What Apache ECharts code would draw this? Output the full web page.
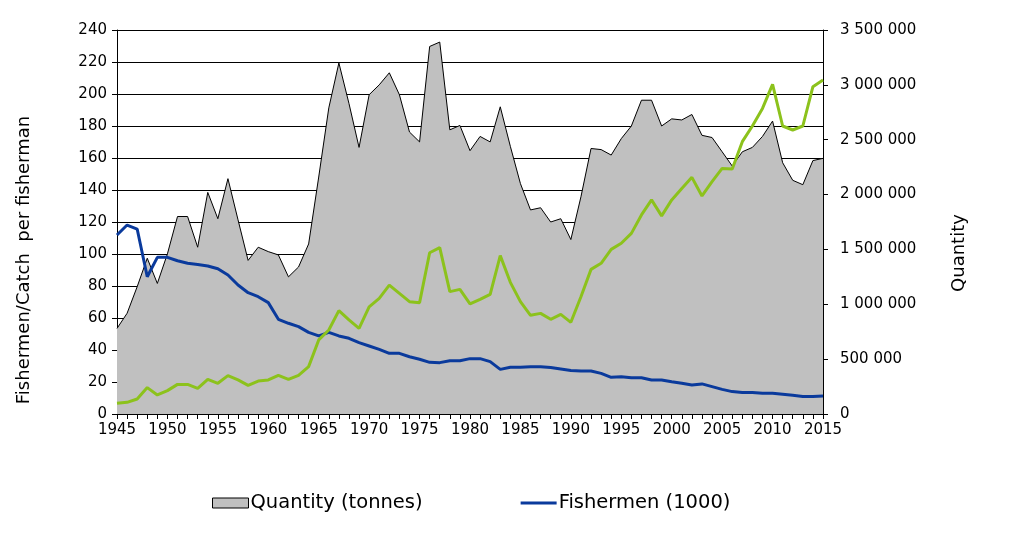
<!DOCTYPE html>
<html>
<head>
<meta charset="utf-8">
<script src="https://cdn.jsdelivr.net/npm/echarts@6/dist/echarts.min.js"></script>
<style>
  html, body { margin: 0; padding: 0; background: #ffffff; }
  #chart { width: 1019px; height: 541px; }
</style>
</head>
<body>
<div id="chart"></div>
<script>
const years = [
  '1945', '1946', '1947', '1948', '1949', '1950', '1951', '1952', '1953', '1954',
  '1955', '1956', '1957', '1958', '1959', '1960', '1961', '1962', '1963', '1964',
  '1965', '1966', '1967', '1968', '1969', '1970', '1971', '1972', '1973', '1974',
  '1975', '1976', '1977', '1978', '1979', '1980', '1981', '1982', '1983', '1984',
  '1985', '1986', '1987', '1988', '1989', '1990', '1991', '1992', '1993', '1994',
  '1995', '1996', '1997', '1998', '1999', '2000', '2001', '2002', '2003', '2004',
  '2005', '2006', '2007', '2008', '2009', '2010', '2011', '2012', '2013', '2014',
  '2015'
]

// tonnes, right axis
const quantity = [
  780000, 918000, 1160000, 1420000, 1190000, 1460000, 1800000, 1800000, 1520000, 2020000,
  1780000, 2145000, 1770000, 1400000, 1520000, 1480000, 1450000, 1250000, 1340000, 1550000,
  2160000, 2790000, 3200000, 2830000, 2430000, 2910000, 3000000, 3110000, 2910000, 2570000,
  2480000, 3350000, 3390000, 2590000, 2630000, 2400000, 2530000, 2480000, 2800000, 2440000,
  2100000, 1860000, 1880000, 1750000, 1780000, 1590000, 1980000, 2420000, 2410000, 2360000,
  2510000, 2625000, 2860000, 2860000, 2625000, 2690000, 2680000, 2730000, 2540000, 2520000,
  2390000, 2260000, 2390000, 2430000, 2530000, 2670000, 2290000, 2130000, 2090000, 2310000,
  2330000
]

// thousands, left axis
const fishermen = [
  111.9, 118.1, 115.6, 85.8, 97.9, 97.9, 95.8, 94.2, 93.5, 92.5,
  90.8, 86.9, 80.6, 75.8, 73.3, 69.6, 59.2, 56.7, 54.6, 51.0,
  48.8, 51.0, 48.8, 47.3, 44.6, 42.5, 40.4, 37.9, 37.9, 35.8,
  34.2, 32.3, 32.1, 33.3, 33.3, 34.6, 34.6, 32.7, 27.9, 29.2,
  29.2, 29.6, 29.6, 29.0, 28.1, 27.2, 26.9, 26.9, 25.4, 22.9,
  23.3, 22.7, 22.7, 21.3, 21.3, 20.2, 19.2, 18.1, 18.8, 17.1,
  15.4, 14.0, 13.5, 13.5, 12.9, 12.9, 12.3, 11.7, 11.0, 11.0,
  11.3
]

// tonnes per fisherman, left axis
const catchPerFisherman = [
  6.7, 7.3, 9.4, 16.5, 11.9, 14.6, 18.5, 18.5, 16.0, 21.7,
  19.2, 24.0, 21.3, 17.9, 20.6, 21.3, 24.2, 21.7, 24.2, 29.6,
  46.3, 52.5, 64.6, 58.8, 53.5, 67.0, 72.3, 80.6, 75.4, 70.2,
  69.6, 100.8, 104.0, 76.5, 77.9, 68.8, 71.7, 74.8, 99.0, 82.3,
  70.2, 61.7, 62.9, 59.2, 62.3, 57.3, 73.3, 90.4, 94.2, 102.9,
  106.7, 112.9, 124.4, 133.8, 123.8, 133.8, 141.0, 147.9, 136.3, 145.2,
  153.5, 153.1, 170.2, 180.0, 191.0, 206.0, 180.0, 177.5, 180.0, 204.6,
  208.8
]

const font = '"DejaVu Sans", Verdana, sans-serif'

function spaced (v) {
  return String(v).replace(/\B(?=(\d{3})+(?!\d))/g, ' ')
}

const chart = echarts.init(document.getElementById('chart'))

chart.setOption({
  backgroundColor: '#ffffff',
  animation: false,
  textStyle: { fontFamily: font, color: '#000' },
  grid: { left: 117, right: 196, top: 30, bottom: 127 },
  legend: {
    left: 207,
    top: 488,
    itemWidth: 36,
    itemHeight: 10,
    itemGap: 98,
    textStyle: { fontFamily: font, fontSize: 19.5, color: '#000', padding: [0, 0, 0, -3] },
    data: [
      { name: 'Quantity (tonnes)', icon: 'rect', itemStyle: { color: '#c0c0c0', borderColor: '#000', borderWidth: 1 } },
      { name: 'Fishermen (1000)', icon: 'path://M0,0h36v3h-36z' }
    ]
  },
  xAxis: {
    type: 'category',
    data: years,
    boundaryGap: false,
    axisLine: { lineStyle: { color: '#000', width: 1 } },
    axisTick: { show: true, interval: 0, length: 5, lineStyle: { color: '#000' } },
    axisLabel: { interval: 4, color: '#000', fontSize: 15, margin: 9, fontFamily: font },
    splitLine: { show: false }
  },
  yAxis: [
    {
      type: 'value',
      min: 0,
      max: 240,
      interval: 20,
      name: 'Fishermen/Catch  per fisherman',
      nameLocation: 'middle',
      nameGap: 84,
      nameTextStyle: { fontSize: 18, color: '#000', fontFamily: font, padding: [0, 76, 0, 0] },
      axisLine: { show: true, lineStyle: { color: '#000' } },
      axisTick: { show: true, length: 5, lineStyle: { color: '#000' } },
      axisLabel: { color: '#000', fontSize: 15, margin: 10, fontFamily: font },
      splitLine: { show: true, lineStyle: { color: '#000', width: 1 } }
    },
    {
      type: 'value',
      min: 0,
      max: 3500000,
      interval: 500000,
      name: 'Quantity',
      nameLocation: 'middle',
      nameGap: 127,
      nameTextStyle: { fontSize: 18, color: '#000', fontFamily: font, padding: [0, 62, 0, 0] },
      position: 'right',
      axisLine: { show: true, lineStyle: { color: '#000' } },
      axisTick: { show: true, length: 5, lineStyle: { color: '#000' } },
      axisLabel: { color: '#000', fontSize: 15, margin: 17, fontFamily: font, formatter: spaced },
      splitLine: { show: false }
    }
  ],
  series: [
    {
      name: 'Quantity (tonnes)',
      type: 'line',
      yAxisIndex: 1,
      data: quantity,
      symbol: 'none',
      lineStyle: { color: '#000', width: 1 },
      itemStyle: { color: '#c0c0c0', borderColor: '#000' },
      areaStyle: { color: '#c0c0c0', opacity: 1 },
      z: 1
    },
    {
      name: 'Fishermen (1000)',
      type: 'line',
      yAxisIndex: 0,
      data: fishermen,
      symbol: 'none',
      lineStyle: { color: '#0a3a9c', width: 3 },
      itemStyle: { color: '#0a3a9c' },
      z: 3
    },
    {
      name: 'Catch per fisherman',
      type: 'line',
      yAxisIndex: 0,
      data: catchPerFisherman,
      symbol: 'none',
      lineStyle: { color: '#8cc21c', width: 3 },
      itemStyle: { color: '#8cc21c' },
      z: 3
    }
  ]
})
</script>
</body>
</html>
